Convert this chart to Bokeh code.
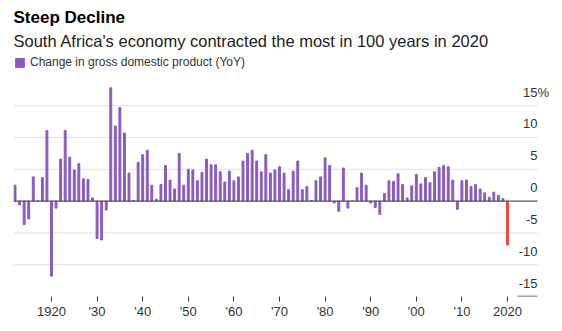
from bokeh.plotting import figure
from bokeh.models import (Range1d, FixedTicker, Title, Legend, LegendItem,
                          LabelSet, ColumnDataSource)
from bokeh.core.properties import value
from bokeh.embed import file_html
from bokeh.resources import INLINE

# ---------------- data ----------------
years = list(range(1912, 2021))
gdp_change = [
    2.5, -0.6, -3.7, -2.8, 3.8, 0.0, 3.7, 11.1, -11.8, -1.1,      # 1912-1921
    6.6, 11.1, 6.9, 4.9, 5.9, 3.5, 3.4, 0.5, -5.9, -6.1,          # 1922-1931
    -1.4, 17.8, 11.8, 14.7, 10.7, 4.4, 0.1, 6.1, 7.3, 8.0,        # 1932-1941
    2.5, 0.3, 2.6, 5.6, 3.3, 1.9, 7.5, 2.5, 5.0, 4.9,             # 1942-1951
    3.2, 4.5, 6.6, 5.7, 5.7, 4.6, 3.0, 4.7, 3.2, 3.8,             # 1952-1961
    6.3, 7.5, 8.0, 6.3, 4.6, 7.3, 4.4, 4.9, 5.4, 4.4,             # 1962-1971
    1.8, 4.7, 6.3, 1.8, 2.3, 0.1, 3.2, 3.8, 6.8, 5.6,             # 1972-1981
    -0.3, -1.6, 5.2, -1.1, 0.0, 2.1, 4.4, 2.5, -0.3, -1.0,        # 1982-1991
    -2.1, 1.2, 3.2, 3.1, 4.3, 2.6, 0.5, 2.4, 4.2, 2.7,            # 1992-2001
    3.7, 2.9, 4.6, 5.3, 5.6, 5.4, 3.3, -1.3, 3.2, 3.3,            # 2002-2011
    2.3, 2.6, 1.9, 1.3, 0.6, 1.4, 0.9, 0.4, -6.9,                 # 2012-2020
]
x_ticks = [1920, 1930, 1940, 1950, 1960, 1970, 1980, 1990, 2000, 2010, 2020]
x_tick_labels = ["1920", "'30", "'40", "'50", "'60", "'70", "'80", "'90", "'00", "'10", "2020"]
y_ticks = [15, 10, 5, 0, -5, -10, -15]
y_tick_labels = ["15", "10", "5", "0", "-5", "-10", "-15"]
y_unit = "%"
highlight_year = 2020

title_text = "Steep Decline"
subtitle_text = "South Africa's economy contracted the most in 100 years in 2020"
legend_text = "Change in gross domestic product (YoY)"

# ---------------- style ----------------
PURPLE = "#8a5bc2"
RED = "#f4483e"
FONT = "Liberation Sans"
W, H = 562, 331
TOP, BOTTOM, LEFT, RIGHT = 52, 35, 13, 2
X_START, X_LABEL, X_END = 1911.67, 2026.58, 2031.62
Y_START, Y_END = -15, 23.36

colors = [RED if y == highlight_year else PURPLE for y in years]
src = ColumnDataSource(dict(year=years, value=gdp_change, color=colors))

p = figure(width=W, height=H, output_backend="svg", toolbar_location=None,
           x_range=Range1d(X_START, X_END), y_range=Range1d(Y_START, Y_END),
           y_axis_location=None, min_border_left=LEFT, min_border_right=RIGHT,
           min_border_top=TOP, min_border_bottom=BOTTOM)
p.outline_line_color = None
p.background_fill_color = "white"
p.border_fill_color = "white"
p.xgrid.visible = False
p.ygrid.visible = False

# horizontal gridlines ending where the labels are right-aligned
grid_ticks = [t for t in y_ticks if t != 0 and t != min(y_ticks)]
p.segment(x0=[X_START] * len(grid_ticks), y0=grid_ticks,
          x1=[X_LABEL] * len(grid_ticks), y1=grid_ticks,
          line_color="#e2e2e2", line_width=1)

r = p.vbar(x="year", top="value", bottom=0, width=0.42, color="color", source=src)

# zero line
p.segment(x0=[X_START], y0=[0], x1=[X_LABEL], y1=[0],
          line_color="#555555", line_width=1.2)

# short dark base line under the lowest y label
p.segment(x0=[X_LABEL - 4.4], y0=[min(y_ticks)], x1=[X_LABEL], y1=[min(y_ticks)],
          line_color="#444444", line_width=1.5)

# x axis
ax = p.xaxis[0]
ax.ticker = FixedTicker(ticks=x_ticks)
ax.major_label_overrides = {t: l for t, l in zip(x_ticks, x_tick_labels)}
ax.axis_line_color = None
ax.major_tick_in = 0
ax.major_tick_out = 5
ax.major_tick_line_color = "#333333"
ax.minor_tick_line_color = None
ax.major_label_standoff = 2
ax.major_label_text_font = FONT
ax.major_label_text_font_size = "13px"
ax.major_label_text_color = "#333333"

# y labels on the right, sitting above their gridlines
ysrc = ColumnDataSource(dict(x=[X_LABEL] * len(y_ticks), y=y_ticks, text=y_tick_labels))
p.add_layout(LabelSet(x="x", y="y", text="text", source=ysrc, text_align="right",
                      text_baseline="alphabetic", y_offset=9, text_font=value(FONT),
                      text_font_size=value("13px"), text_color=value("#333333")))
usrc = ColumnDataSource(dict(x=[X_LABEL], y=[max(y_ticks)], text=[y_unit]))
p.add_layout(LabelSet(x="x", y="y", text="text", source=usrc, text_align="left",
                      text_baseline="alphabetic", y_offset=9, text_font=value(FONT),
                      text_font_size=value("13px"), text_color=value("#333333")))

# legend
frame_h = H - TOP - BOTTOM
legend = Legend(items=[LegendItem(label=legend_text, renderers=[r], index=0)],
                location=(1, frame_h - 17), padding=0, margin=0, spacing=0,
                glyph_width=11, glyph_height=11, label_height=11, label_standoff=5,
                label_text_font=FONT, label_text_font_size="12px",
                label_text_color="#333333", background_fill_alpha=0,
                border_line_color=None)
p.add_layout(legend)

# titles
p.add_layout(Title(text=subtitle_text, text_font=FONT, text_font_size="16.5px",
                   text_font_style="normal", text_color="#222222", align="left",
                   standoff=6, offset=0), "above")
p.add_layout(Title(text=title_text, text_font=FONT, text_font_size="17px",
                   text_font_style="bold", text_color="#000000", align="left",
                   standoff=0, offset=0), "above")

open("out.html", "w").write(file_html(p, INLINE))
